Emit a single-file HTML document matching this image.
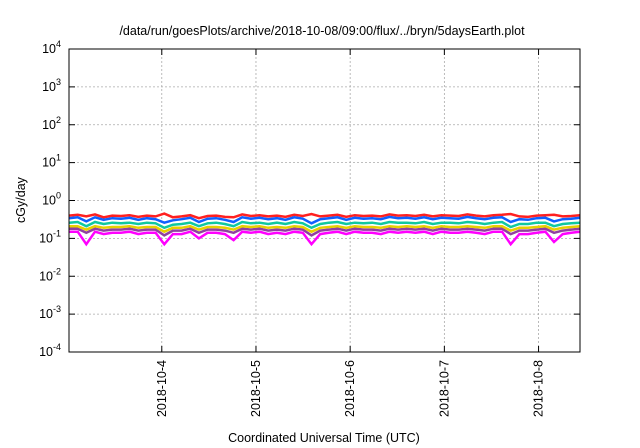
<!DOCTYPE html>
<html><head><meta charset="utf-8"><style>
body{margin:0;background:#fff;}
svg{display:block;font-family:"Liberation Sans",sans-serif;}
</style></head><body>
<svg id="chart" width="640" height="448">
<text x="322" y="35" font-size="12.5" text-anchor="middle">/data/run/goesPlots/archive/2018-10-08/09:00/flux/../bryn/5daysEarth.plot</text>
<g id="grid"></g><g id="series"></g><g id="axes"></g>
<text x="25" y="200" font-size="12.5" text-anchor="middle" transform="rotate(-90 25 200)">cGy/day</text>
<text x="324" y="442" font-size="12.5" text-anchor="middle">Coordinated Universal Time (UTC)</text>
</svg>
<script>
const yExps=[-4,-3,-2,-1,0,1,2,3,4];
const xTicks=["2018-10-4","2018-10-5","2018-10-6","2018-10-7","2018-10-8"];
const xTickDays=[1,2,3,4,5];
const red=[0.40,0.42,0.38,0.43,0.36,0.40,0.39,0.41,0.37,0.40,0.38,0.45,0.36,0.38,0.41,0.34,0.39,0.40,0.37,0.36,0.43,0.39,0.41,0.38,0.40,0.37,0.42,0.39,0.44,0.38,0.40,0.42,0.37,0.41,0.39,0.40,0.38,0.43,0.40,0.41,0.39,0.42,0.38,0.41,0.40,0.39,0.43,0.40,0.38,0.41,0.42,0.44,0.38,0.37,0.40,0.41,0.42,0.38,0.39,0.41];
const blue=[0.34,0.36,0.28,0.36,0.31,0.34,0.33,0.35,0.31,0.34,0.32,0.26,0.30,0.32,0.35,0.27,0.33,0.34,0.31,0.27,0.36,0.33,0.35,0.32,0.34,0.31,0.36,0.33,0.25,0.32,0.34,0.36,0.31,0.35,0.33,0.34,0.32,0.37,0.34,0.35,0.33,0.36,0.32,0.35,0.34,0.33,0.37,0.34,0.32,0.35,0.36,0.27,0.32,0.31,0.34,0.35,0.28,0.32,0.33,0.35];
const teal=[0.26,0.27,0.21,0.27,0.24,0.26,0.25,0.26,0.24,0.26,0.25,0.19,0.23,0.24,0.26,0.21,0.25,0.26,0.24,0.21,0.27,0.25,0.26,0.24,0.26,0.24,0.27,0.25,0.19,0.24,0.26,0.27,0.24,0.26,0.25,0.26,0.24,0.27,0.26,0.26,0.25,0.27,0.24,0.26,0.26,0.25,0.27,0.26,0.24,0.26,0.27,0.20,0.24,0.24,0.26,0.26,0.21,0.24,0.25,0.26];
const yellow=[0.21,0.21,0.17,0.21,0.19,0.20,0.20,0.21,0.19,0.20,0.20,0.15,0.19,0.19,0.21,0.17,0.20,0.20,0.19,0.17,0.21,0.20,0.21,0.19,0.20,0.19,0.21,0.20,0.15,0.19,0.20,0.21,0.19,0.21,0.20,0.20,0.19,0.21,0.20,0.21,0.20,0.21,0.19,0.21,0.20,0.20,0.21,0.20,0.19,0.21,0.21,0.16,0.19,0.19,0.20,0.21,0.17,0.19,0.20,0.21];
const purple=[0.18,0.18,0.14,0.18,0.16,0.17,0.17,0.18,0.16,0.17,0.17,0.12,0.16,0.16,0.18,0.14,0.17,0.17,0.16,0.14,0.18,0.17,0.18,0.16,0.17,0.16,0.18,0.17,0.12,0.16,0.17,0.18,0.16,0.18,0.17,0.17,0.16,0.18,0.17,0.18,0.17,0.18,0.16,0.18,0.17,0.17,0.18,0.17,0.16,0.18,0.18,0.13,0.16,0.16,0.17,0.18,0.14,0.16,0.17,0.18];
const magenta=[0.15,0.15,0.07,0.15,0.13,0.14,0.14,0.15,0.13,0.14,0.14,0.07,0.13,0.13,0.15,0.10,0.14,0.14,0.13,0.09,0.15,0.14,0.15,0.13,0.14,0.13,0.15,0.14,0.07,0.13,0.14,0.15,0.13,0.15,0.14,0.14,0.13,0.15,0.14,0.15,0.14,0.15,0.13,0.15,0.14,0.14,0.15,0.14,0.13,0.15,0.15,0.07,0.13,0.13,0.14,0.15,0.08,0.13,0.14,0.15];
const seriesList=[[magenta,"#ff00ff","series-magenta"],[purple,"#9040a0","series-purple"],[yellow,"#e8d000","series-yellow"],[teal,"#10c8a0","series-teal"],[red,"#ff2020","series-red"],[blue,"#1060ff","series-blue"]];
const L=69,R=580,T=49,B=352,d0=0.015,d1=5.44;
const NS="http://www.w3.org/2000/svg";
function X(d){return L+(d-d0)/(d1-d0)*(R-L);}
function Y(v){return B-(Math.log10(v)+4)/8*(B-T);}
function mk(tag,attrs,parent){const e=document.createElementNS(NS,tag);for(const k in attrs)e.setAttribute(k,attrs[k]);parent.appendChild(e);return e;}
const grid=document.getElementById('grid'),axes=document.getElementById('axes'),sg=document.getElementById('series');
yExps.forEach(e=>{const y=Y(Math.pow(10,e));
 if(e>-4&&e<4){const g=mk('line',{x1:L,x2:R,y1:y,y2:y,stroke:'#aaa','stroke-dasharray':'2,2','stroke-width':0.8},grid);
 
 }
 mk('line',{x1:L,x2:L+6,y1:y,y2:y,stroke:'#000'},axes);
 mk('line',{x1:R,x2:R-6,y1:y,y2:y,stroke:'#000'},axes);
 const t=mk('text',{x:L-8,y:y+4,'font-size':12.5,'text-anchor':'end'},axes);
 
 
 t.innerHTML='10<tspan dy="-6" font-size="9">'+e+'</tspan>';
});
xTicks.forEach((lab,i)=>{const x=X(xTickDays[i]);
 const g=mk('line',{x1:x,x2:x,y1:T,y2:B,stroke:'#aaa','stroke-dasharray':'2,2','stroke-width':0.8},grid);
 
 
 mk('line',{x1:x,x2:x,y1:B,y2:B-6,stroke:'#000'},axes);
 mk('line',{x1:x,x2:x,y1:T,y2:T+6,stroke:'#000'},axes);
 const t=mk('text',{x:x+4,y:B+8,'font-size':12.5,'text-anchor':'end',transform:'rotate(-90 '+(x+4)+' '+(B+8)+')'},axes);
 
 
 t.textContent=lab;
});
const fr=mk('rect',{x:L,y:T,width:R-L,height:B-T,fill:'none',stroke:'#000','stroke-width':1},axes);


seriesList.forEach(([arr,col,name])=>{
 const n=arr.length;
 const pts=arr.map((v,i)=>X(d0+(d1-d0)*i/(n-1)).toFixed(1)+','+Y(v).toFixed(1)).join(' ');
 const p=mk('polyline',{points:pts,fill:'none',stroke:col,'stroke-width':2.5},sg);
 
 
});
</script>
</body></html>
